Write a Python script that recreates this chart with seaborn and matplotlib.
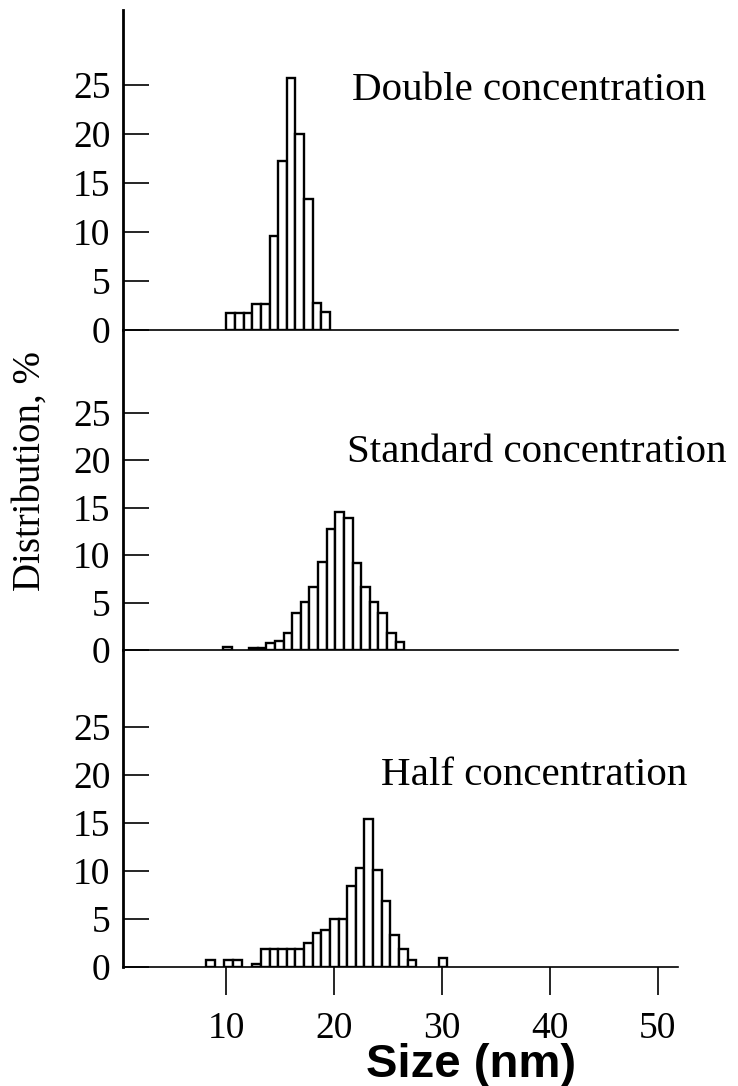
import matplotlib
matplotlib.use("Agg")
import matplotlib.pyplot as plt
import seaborn as sns

# bin centres (nm) and share of particles (%)
double_sizes = [10.4, 11.2, 12.0, 12.8, 13.6, 14.4, 15.2, 16.0, 16.8, 17.6, 18.4, 19.2]
double_pct = [1.7, 1.7, 1.7, 2.6, 2.6, 9.6, 17.2, 25.7, 20.0, 13.3, 2.8, 1.8]

standard_sizes = [10.1, 12.5, 13.3, 14.1, 14.9, 15.7, 16.5, 17.3, 18.1, 18.9,
                  19.7, 20.5, 21.3, 22.1, 22.9, 23.7, 24.5, 25.3, 26.1]
standard_pct = [0.3, 0.2, 0.2, 0.7, 1.0, 1.8, 3.9, 5.1, 6.6, 9.3,
                12.7, 14.5, 13.9, 9.2, 6.6, 5.1, 3.9, 1.8, 0.8]

half_sizes = [8.5, 10.2, 11.0, 12.8, 13.6, 14.4, 15.2, 16.0, 16.8, 17.6, 18.4, 19.2,
              20.0, 20.8, 21.6, 22.4, 23.2, 24.0, 24.8, 25.6, 26.4, 27.2, 30.1]
half_pct = [0.7, 0.7, 0.7, 0.3, 1.9, 1.9, 1.9, 1.9, 1.9, 2.5, 3.5, 3.9,
            5.0, 5.0, 8.4, 10.3, 15.4, 10.1, 6.9, 3.3, 1.9, 0.7, 0.9]

panel_titles = ["Double concentration", "Standard concentration", "Half concentration"]
y_ticks = [0, 5, 10, 15, 20, 25]
x_ticks = [10, 20, 30, 40, 50]

sns.set_style("ticks")
plt.rcParams["font.family"] = ["Liberation Serif", "DejaVu Serif"]
for key in ["text.color", "axes.labelcolor", "xtick.color", "ytick.color", "axes.edgecolor"]:
    plt.rcParams[key] = "black"

W, H = 738, 1086
fig = plt.figure(figsize=(W / 100, H / 100), dpi=100)

# panel boxes in pixels: (top, bottom), with y limits per panel
boxes = [(10, 330, 32.6), (330, 650, 33.7), (650, 967, 33.0)]
title_pos = [(352, 100), (347, 462), (381, 785)]
data = [(double_sizes, double_pct), (standard_sizes, standard_pct), (half_sizes, half_pct)]

left_px, right_px = 123, 678
for i, ((top, bottom, ymax), (sizes, pct)) in enumerate(zip(boxes, data)):
    ax = fig.add_axes([left_px / W, 1 - bottom / H, (right_px - left_px) / W, (bottom - top) / H])
    sns.barplot(
        x=sizes,
        y=pct,
        native_scale=True,
        width=1,
        color="white",
        saturation=1,
        edgecolor="black",
        linewidth=1.7,
        errorbar=None,
        ax=ax,
    )
    ax.set_xlim(0.4, 51.9)
    ax.set_ylim(0, ymax)
    ax.set_yticks(y_ticks)
    ax.tick_params(axis="y", direction="in", length=19, width=1.2, pad=9, labelsize=27)
    for s in ["top", "right"]:
        ax.spines[s].set_visible(False)
    ax.spines["left"].set_linewidth(2.0)
    ax.spines["bottom"].set_linewidth(1.2)
    ax.set_facecolor("none")
    if i < 2:
        ax.set_xticks([])
    else:
        ax.set_xticks(x_ticks)
        ax.tick_params(axis="x", direction="out", length=20, width=1.2, pad=12, labelsize=27)
    ax.set_xlabel("")
    ax.set_ylabel("")
    tx, ty = title_pos[i]
    fig.text(tx / W, 1 - ty / H, panel_titles[i], fontsize=29.5, ha="left", va="baseline")

fig.text(30 / W, 1 - 471 / H, "Distribution, %", rotation=90, fontsize=28,
         ha="center", va="center")
fig.text(471 / W, 1 - 1077 / H, "Size (nm)", fontsize=34, fontweight="bold",
         family=["Liberation Sans", "DejaVu Sans"], ha="center", va="baseline")

fig.savefig("out.png", dpi=100)
